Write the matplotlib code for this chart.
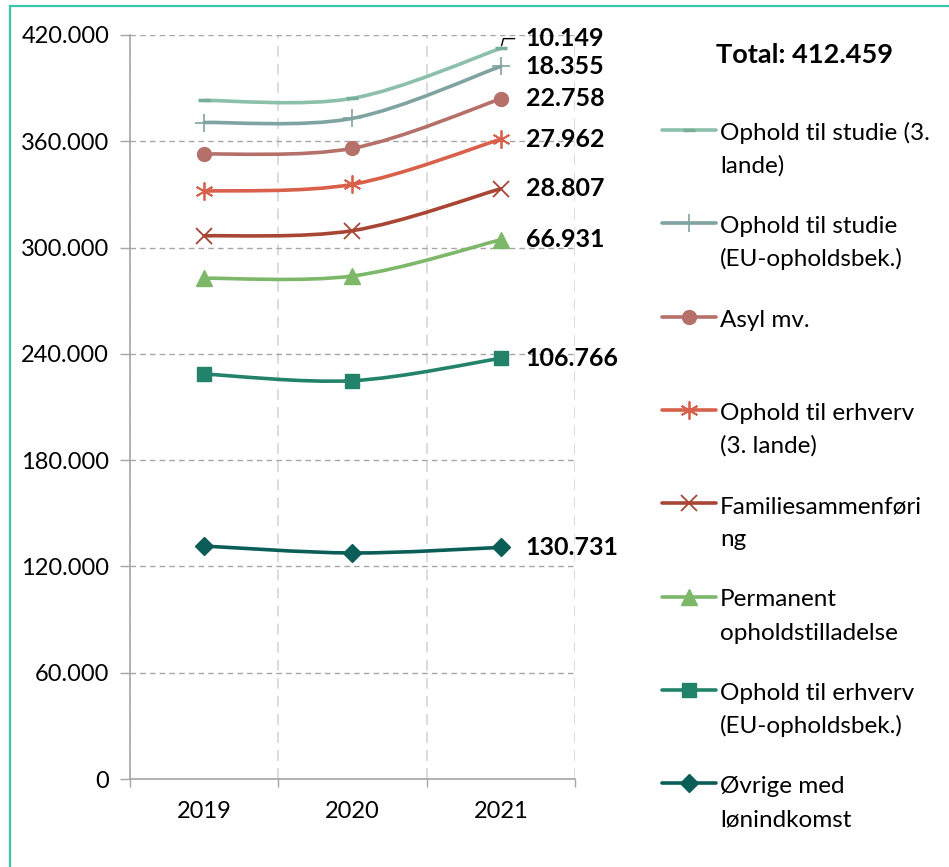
import numpy as np
import matplotlib

matplotlib.use('Agg')
import matplotlib.pyplot as plt
from matplotlib.path import Path
from matplotlib.patches import PathPatch
from matplotlib.lines import Line2D
from matplotlib.ticker import FixedLocator, FuncFormatter

plt.rcParams['font.family'] = ['Lato', 'DejaVu Sans']

# Data (stacked, bottom to top)
years = ['2019', '2020', '2021']
ovrige = [131500, 127600, 130731]
erhverv_eu = [97100, 97250, 106766]
permanent = [54100, 59100, 66931]
familie = [23900, 25600, 28807]
erhverv_3 = [25250, 26150, 27962]
asyl = [20900, 20350, 22758]
studie_eu = [17850, 16900, 18355]
studie_3 = [12450, 11300, 10149]
total_label = 'Total: 412.459'

labels = [
    'Øvrige med\nlønindkomst',
    'Ophold til erhverv\n(EU-opholdsbek.)',
    'Permanent\nopholdstilladelse',
    'Familiesammenføri\nng',
    'Ophold til erhverv\n(3. lande)',
    'Asyl mv.',
    'Ophold til studie\n(EU-opholdsbek.)',
    'Ophold til studie (3.\nlande)',
]
series = [ovrige, erhverv_eu, permanent, familie, erhverv_3, asyl, studie_eu, studie_3]

colors = ['#0B5E58', '#23826A', '#7DB86A', '#A84535', '#D9604A', '#B5706A', '#7FA3A0', '#8CC0AC']
markers = ['D', 's', '^', 'x', (6, 2, 0), 'o', '+', '_']
msizes = [9, 10, 11, 12, 13, 10, 13, 9]
medge = [1, 1, 1, 1.3, 1.3, 1, 1.2, 2.5]
mcolors = colors[:7] + ['#76AE97']


def fmt(v):
    return f'{int(v):,}'.replace(',', '.')


def smooth_path(xs, ys):
    # excel-like smoothed line as cubic bezier segments
    pts = np.column_stack([xs, ys]).astype(float)
    n = len(pts)
    verts = [pts[0]]
    codes = [Path.MOVETO]
    for i in range(n - 1):
        p0 = pts[max(i - 1, 0)]
        p1 = pts[i]
        p2 = pts[i + 1]
        p3 = pts[min(i + 2, n - 1)]
        verts += [p1 + (p2 - p0) / 6, p2 - (p3 - p1) / 6, p2]
        codes += [Path.CURVE4] * 3
    return Path(verts, codes)


fig = plt.figure(figsize=(9.49, 8.67), dpi=100)
ax = fig.add_axes([130 / 949, 1 - 779 / 867, 445 / 949, 744 / 867])

x = np.arange(len(years))
stacked = np.cumsum(np.array(series, dtype=float), axis=0)

for i in range(len(series)):
    ax.add_patch(PathPatch(smooth_path(x, stacked[i]), fill=False, edgecolor=colors[i],
                           lw=2.6, capstyle='round', joinstyle='round', zorder=3 + i))
    ax.plot(x, stacked[i], ls='none', marker=markers[i], ms=msizes[i], mew=medge[i],
            color=mcolors[i], mec=mcolors[i], zorder=3 + i)

# data labels for 2021
for i in range(len(series) - 1):
    ax.annotate(fmt(series[i][-1]), xy=(x[-1], stacked[i][-1]), xytext=(18, 0),
                textcoords='offset points', va='center', ha='left',
                fontsize=18, fontweight='bold', color='black', zorder=20)
ax.annotate(fmt(series[-1][-1]), xy=(x[-1], stacked[-1][-1]), xytext=(18, 7),
            textcoords='offset points', va='center', ha='left',
            fontsize=18, fontweight='bold', color='black', zorder=20,
            arrowprops=dict(arrowstyle='-', color='black', lw=1, shrinkA=6, shrinkB=2,
                            relpos=(0, 0.5),
                            connectionstyle='angle,angleA=0,angleB=75,rad=0'))

ax.set_xlim(-0.5, 2.5)
ax.set_ylim(0, 420000)
ax.set_yticks(np.arange(0, 420001, 60000))
ax.yaxis.set_major_formatter(FuncFormatter(lambda v, p: fmt(v)))
ax.set_xticks(x)
ax.set_xticklabels(years)
ax.xaxis.set_minor_locator(FixedLocator([-0.5, 0.5, 1.5, 2.5]))

ax.tick_params(axis='y', length=7, width=1, color='#A6A6A6', labelsize=17, pad=8)
ax.tick_params(axis='x', which='major', length=0, labelsize=17, pad=16)
ax.tick_params(axis='x', which='minor', length=6, width=1, color='#A6A6A6')

ax.grid(axis='y', which='major', color='#A6A6A6', ls=(0, (4, 3)), lw=1)
ax.grid(axis='x', which='minor', color='#D9D9D9', ls=(0, (6, 4)), lw=1.3)
ax.set_axisbelow(True)

for s in ['top', 'right']:
    ax.spines[s].set_visible(False)
for s in ['left', 'bottom']:
    ax.spines[s].set_color('#A6A6A6')
    ax.spines[s].set_linewidth(1.2)

# legend + frame, drawn in figure pixel space
lg = fig.add_axes([0, 0, 1, 1])
lg.set_xlim(0, 949)
lg.set_ylim(867, 0)
lg.axis('off')
lg.patch.set_alpha(0)

lg.text(805, 55, total_label, ha='center', va='center', fontsize=19.5, fontweight='bold')

for k, i in enumerate(range(len(series) - 1, -1, -1)):
    yc = 130 + k * 93.3
    lg.add_line(Line2D([662, 716], [yc, yc], color=colors[i], lw=2.6, solid_capstyle='round'))
    lg.plot([689], [yc], ls='none', marker=markers[i], ms=msizes[i], mew=medge[i],
            color=mcolors[i], mec=mcolors[i])
    for j, line in enumerate(labels[i].split('\n')):
        lg.text(720, yc + 10 + j * 33, line, ha='left', va='baseline', fontsize=17.5)

lg.plot([10, 10], [6, 867], color='#3CC8A8', lw=1.6, clip_on=False)
lg.plot([10, 949], [6, 6], color='#3CC8A8', lw=1.6, clip_on=False)

fig.savefig('out.png', dpi=100)
